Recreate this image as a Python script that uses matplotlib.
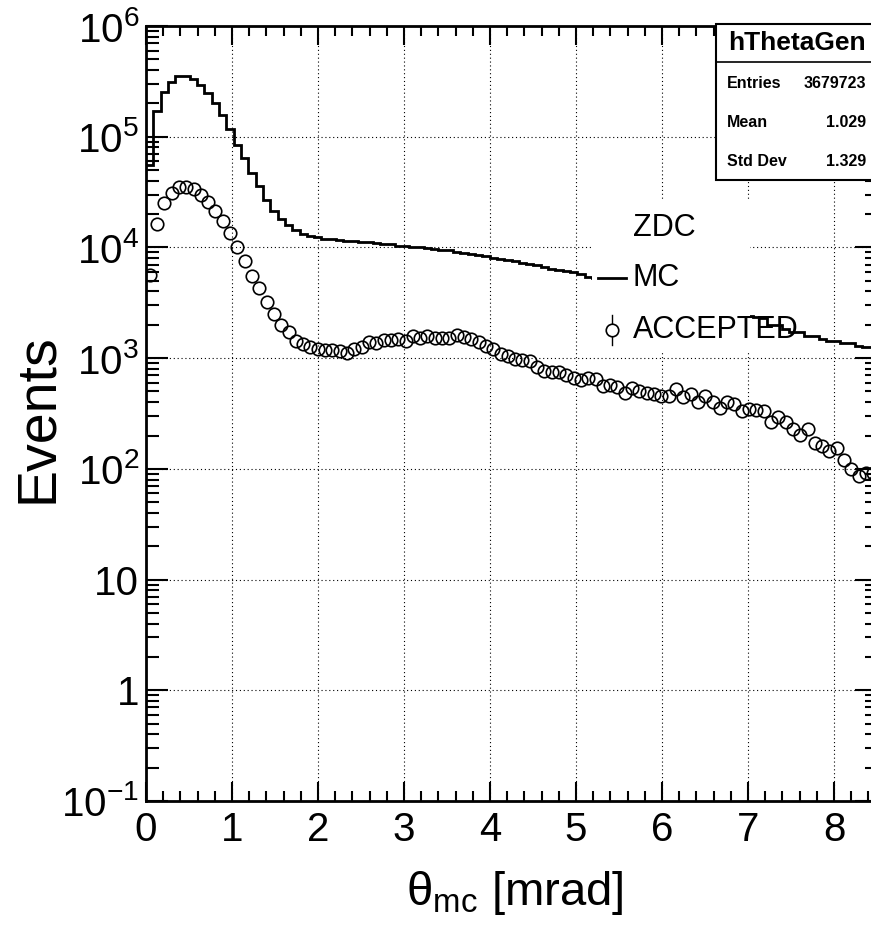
import numpy as np
import matplotlib
matplotlib.use('Agg')
from matplotlib import pyplot as plt
from matplotlib.ticker import LogLocator, MultipleLocator, NullFormatter
from matplotlib.patches import Rectangle

plt.rcParams['font.family'] = ['Liberation Sans', 'DejaVu Sans']
plt.rcParams['mathtext.fontset'] = 'custom'
plt.rcParams['mathtext.rm'] = 'Liberation Sans'
plt.rcParams['mathtext.it'] = 'Liberation Sans:italic'

# Histogram binning (100 bins from 0 to 8.5 mrad)
xmin, xmax, nbins = 0.0, 8.5, 100

# MC (generated) counts per bin
mc = [56000, 169000, 256000, 315000, 356000, 356000, 333000, 294000, 247000, 201000,
      158000, 117000, 85000, 64000, 47000, 35600, 27000, 21200, 18100, 15800,
      14300, 13300, 12800, 12400, 12000, 11800, 11700, 11500, 11400, 11300,
      11200, 11000, 10800, 10700, 10400, 10200, 10000, 10000, 9800, 9700,
      9500, 9400, 9100, 8900, 8800, 8500, 8400, 8100, 7800, 7700,
      7500, 7300, 7100, 6900, 6700, 6400, 6200, 6100, 6000, 5700,
      5450, 5300, 5100, 5000, 4800, 4700, 4500, 4300, 4200, 4000,
      3900, 3700, 3600, 3400, 3300, 3200, 3000, 2900, 2800, 2700,
      2600, 2500, 2400, 2330, 2300, 2000, 1980, 1820, 1730, 1730,
      1590, 1590, 1500, 1430, 1430, 1360, 1360, 1290, 1270, 1250]

# accepted counts per bin
acc = [5600, 16300, 25300, 31100, 35200, 35200, 34000, 30000, 25700, 21500,
       17300, 13600, 10100, 7600, 5500, 4330, 3240, 2530, 2010, 1710,
       1430, 1340, 1270, 1220, 1180, 1180, 1170, 1110, 1220, 1260,
       1400, 1370, 1460, 1460, 1490, 1420, 1600, 1520, 1580, 1520,
       1530, 1530, 1610, 1560, 1500, 1410, 1290, 1200, 1090, 1050,
       980, 960, 946, 824, 769, 753, 743, 703, 656, 634,
       656, 647, 556, 571, 545, 484, 537, 507, 481, 474,
       457, 457, 526, 450, 474, 405, 457, 405, 352, 400,
       387, 335, 345, 342, 330, 263, 297, 265, 231, 203,
       231, 171, 161, 145, 155, 120, 100, 86, 91, 92]

ytick_vals = [1e-1, 1, 10, 1e2, 1e3, 1e4, 1e5, 1e6]
ytick_labels = ['$\\mathregular{10^{-1}}$', '1', '10', '$\\mathregular{10^{2}}$',
                '$\\mathregular{10^{3}}$', '$\\mathregular{10^{4}}$',
                '$\\mathregular{10^{5}}$', '$\\mathregular{10^{6}}$']

stats_name = 'hThetaGen'
stats_rows = [('Entries', '3679723'), ('Mean', '1.029'), ('Std Dev', '1.329')]

edges = np.linspace(xmin, xmax, nbins + 1)
centers = 0.5 * (edges[:-1] + edges[1:])

fig = plt.figure(figsize=(8.71, 9.26), dpi=100)
ax = fig.add_axes([146/871, 1 - 801/926, 731/871, 775/926])

ax.stairs(mc, edges, baseline=None, color='k', lw=2, zorder=3)
ax.plot(centers, acc, 'o', ms=9, mfc='none', mec='k', mew=1.2, zorder=4)

ax.set_yscale('log')
ax.set_xlim(xmin, xmax)
ax.set_ylim(1e-1, 1e6)
ax.set_yticks(ytick_vals)
ax.set_yticklabels(ytick_labels)
ax.yaxis.set_minor_locator(LogLocator(base=10, subs=np.arange(2, 10), numticks=30))
ax.yaxis.set_minor_formatter(NullFormatter())
ax.xaxis.set_major_locator(MultipleLocator(1))
ax.xaxis.set_minor_locator(MultipleLocator(0.2))

ax.tick_params(which='both', direction='in', top=True, right=True, width=1.5)
ax.tick_params(axis='y', which='major', length=16, labelsize=29, pad=5)
ax.tick_params(axis='y', which='minor', length=9)
ax.tick_params(axis='x', which='major', length=14, labelsize=29, pad=7)
ax.tick_params(axis='x', which='minor', length=7)
for s in ax.spines.values():
    s.set_linewidth(2)
ax.grid(which='major', ls=(0, (1, 2.5)), color='k', lw=0.8)

fig.text(515/871, 1 - 893/926, '\u03b8$_{\\mathregular{mc}}$ [mrad]', fontsize=34,
         ha='center', va='center')
fig.text(38/871, 1 - 418/926, 'Events', fontsize=40, rotation=90,
         ha='center', va='center')

# legend (white box, no border)
ax.add_patch(Rectangle((0.610, 0.579), 0.216, 0.196, transform=ax.transAxes,
                       fc='white', ec='none', zorder=5))
ax.text(0.666, 0.739, 'ZDC', transform=ax.transAxes, fontsize=22, va='center', zorder=6)
ax.text(0.666, 0.675, 'MC', transform=ax.transAxes, fontsize=22, va='center', zorder=6)
ax.text(0.666, 0.608, 'ACCEPTED', transform=ax.transAxes, fontsize=22, va='center', zorder=6)
ax.plot([0.618, 0.657], [0.675, 0.675], transform=ax.transAxes, color='k', lw=2, zorder=6)
ax.plot([0.637, 0.637], [0.589, 0.627], transform=ax.transAxes, color='k', lw=1, zorder=6)
ax.plot([0.637], [0.608], 'o', transform=ax.transAxes, ms=9, mfc='white', mec='k',
        mew=1.2, zorder=7)

# stats box
ax.add_patch(Rectangle((0.780, 0.801), 0.25, 0.201, transform=ax.transAxes,
                       fc='white', ec='k', lw=1.5, zorder=8, clip_on=False))
ax.plot([0.780, 1.0], [0.954, 0.954], transform=ax.transAxes, color='k', lw=1.2,
        zorder=9, clip_on=False)
ax.text(0.890, 0.978, stats_name, transform=ax.transAxes, fontsize=19, weight='bold',
        ha='center', va='center', zorder=9)
for (name, val), yy in zip(stats_rows, [0.926, 0.875, 0.825]):
    ax.text(0.795, yy, name, transform=ax.transAxes, fontsize=11.5, weight='bold',
            ha='left', va='center', zorder=9)
    ax.text(0.985, yy, val, transform=ax.transAxes, fontsize=11.5, weight='bold',
            ha='right', va='center', zorder=9)

fig.savefig('out.png', dpi=100)
